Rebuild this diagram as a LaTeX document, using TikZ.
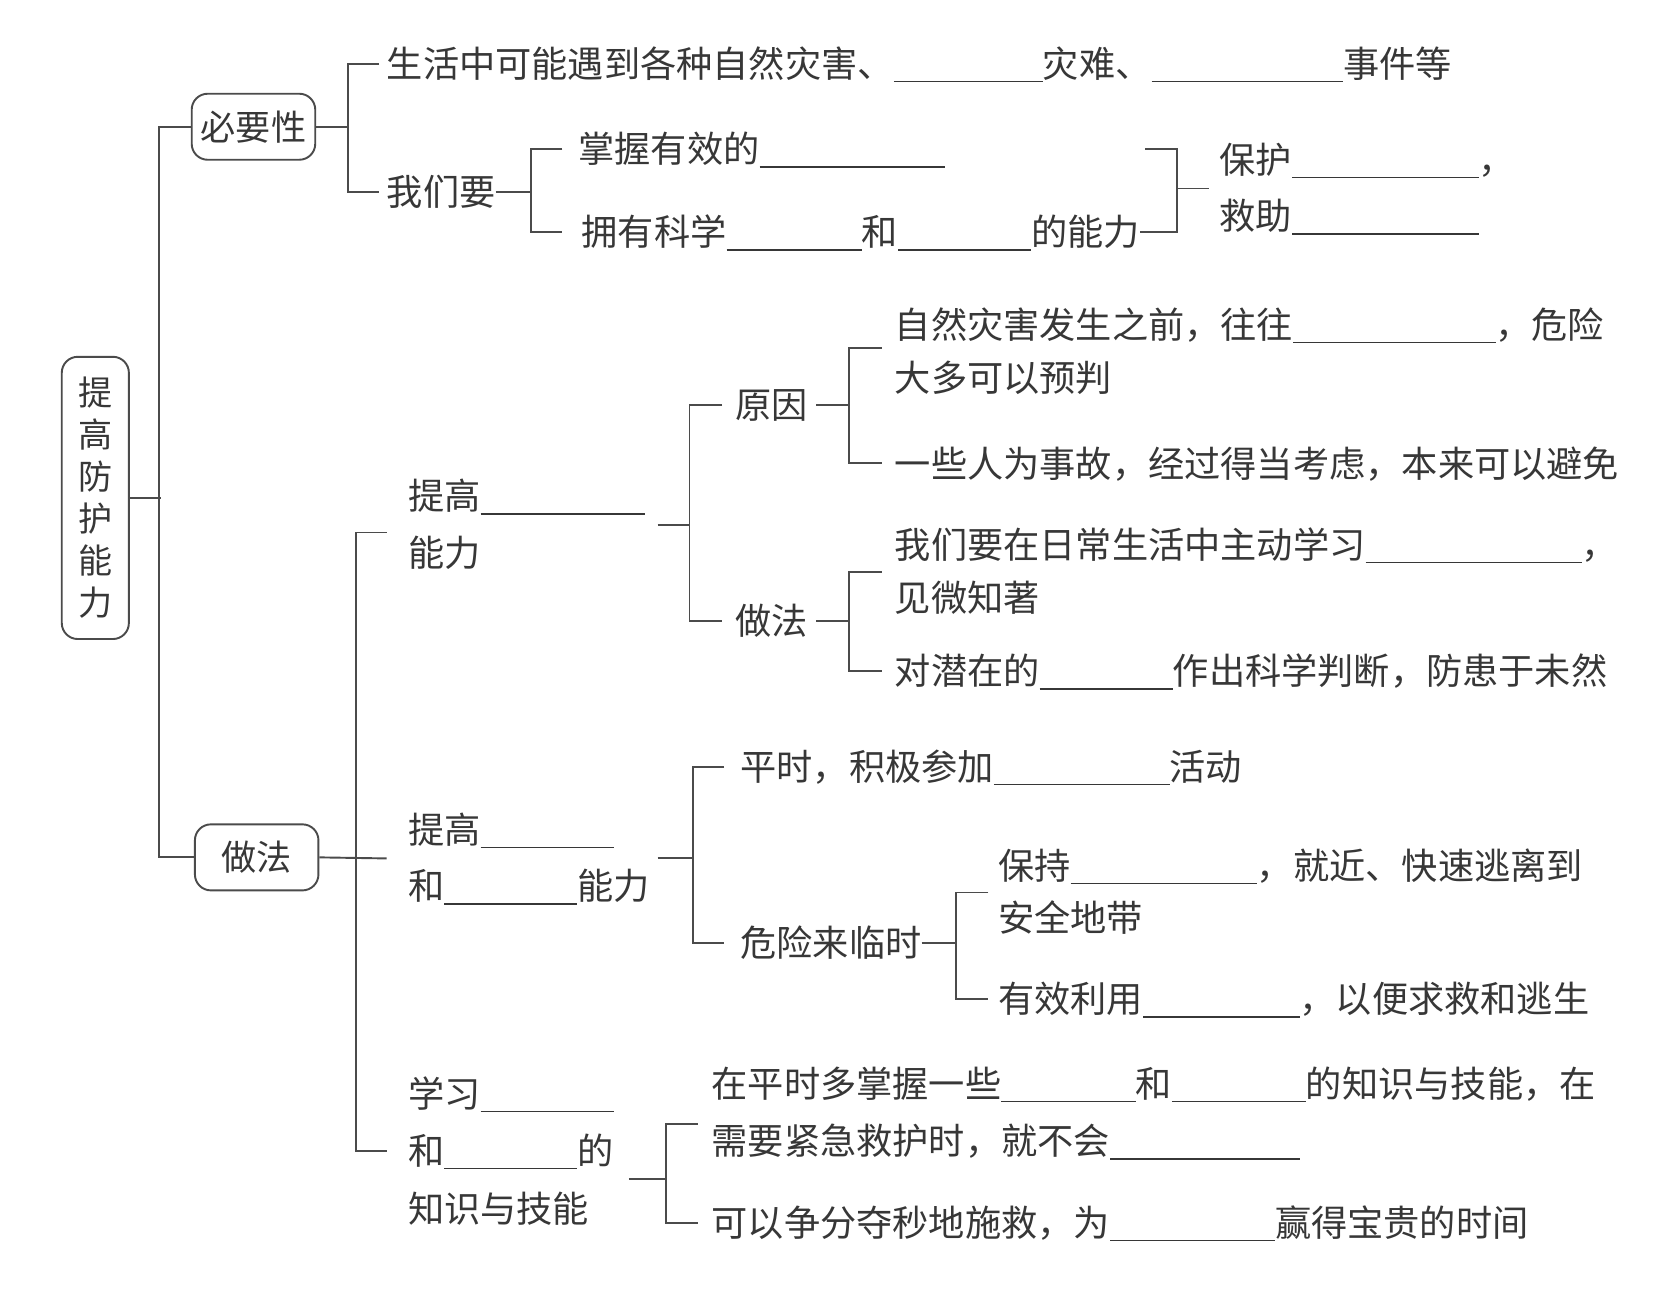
\documentclass[tikz,border=0pt]{standalone}
\usepackage{fontspec}
\setmainfont{Noto Sans CJK SC}
\definecolor{textc}{RGB}{55,55,55}
\definecolor{linec}{RGB}{75,75,75}
\newcommand\cs{\rule[-0.12em]{0pt}{1em}}
\newcommand\blank[1]{\smash{\rule[-4.5pt]{#1pt}{1.2pt}}}
\tikzset{
  txt/.style={anchor=west, inner sep=0pt, align=left, text=textc,
    font=\fontsize{34}{50}\selectfont, execute at begin node=\cs},
  conn/.style={draw=linec, line width=1.8pt},
  rbox/.style={draw=linec, line width=1.8pt, rounded corners=15pt, inner sep=0pt,
    text=textc, font=\fontsize{33}{40}\selectfont, minimum width=116pt, minimum height=62pt},
}
\begin{document}
\begin{tikzpicture}[x=1pt,y=-1pt]
\useasboundingbox[fill=white] (0,0) rectangle (1568,1228);

% root and first level
\node[rbox, minimum width=63pt, minimum height=265pt, align=center,
  font=\fontsize{32}{39.5}\selectfont] (root) at (89.5,467.5) {提\\高\\防\\护\\能\\力};
\node[rbox] (bixu) at (238,119) {必要性};
\node[rbox] (zuofa) at (241,805) {做法};

% necessity branch
\node[txt] (a1) at (363,60) {生活中可能遇到各种自然灾害、\blank{140}灾难、\blank{180}事件等};
\node[txt] (a2) at (363,180) {我们要};
\node[txt] (b1) at (543,140) {掌握有效的\blank{174}};
\node[txt] (b2) at (546,218) {拥有科学\blank{127}和\blank{125}的能力};
\node[txt, font=\fontsize{34}{53}\selectfont] (c1) at (1145,177) {保护\blank{175}，\\\cs 救助\blank{175}};

% methods branch
\node[txt, font=\fontsize{34}{53}\selectfont] (d1) at (383,493) {提高\blank{154}\\\cs 能力};
\node[txt, font=\fontsize{34}{53}\selectfont] (d2) at (383,806) {提高\blank{125}\\\cs 和\blank{125}能力};
\node[txt, font=\fontsize{34}{54}\selectfont] (d3) at (383,1081) {学习\blank{125}\\\cs 和\blank{125}的\\\cs 知识与技能};

\node[txt] (e1) at (690,380) {原因};
\node[txt] (e2) at (690,583) {做法};
\node[txt] (f1) at (840,330) {自然灾害发生之前，往往\blank{190}，危险\\\cs 大多可以预判};
\node[txt] (f2) at (840,435) {一些人为事故，经过得当考虑，本来可以避免};
\node[txt] (g1) at (840,537) {我们要在日常生活中主动学习\blank{203}，\\\cs 见微知著};
\node[txt] (g2) at (840,630) {对潜在的\blank{125}作出科学判断，防患于未然};

\node[txt] (h1) at (695,720) {平时，积极参加\blank{165}活动};
\node[txt] (h2) at (695,885) {危险来临时};
\node[txt, font=\fontsize{34}{49}\selectfont] (i1) at (937,838) {保持\blank{175}，就近、快速逃离到\\\cs 安全地带};
\node[txt] (i2) at (937,938) {有效利用\blank{147}，以便求救和逃生};

\node[txt, font=\fontsize{34}{54}\selectfont] (j1) at (668,1045) {在平时多掌握一些\blank{126}和\blank{126}的知识与技能，在\\\cs 需要紧急救护时，就不会\blank{178}};
\node[txt] (j2) at (668,1148) {可以争分夺秒地施救，为\blank{155}赢得宝贵的时间};

% connectors
\draw[conn] (root.east) -- ++(29,0);
\draw[conn] (bixu.west) -- ++(-30,0) |- (zuofa.west);

\draw[conn] (bixu.east) -- ++(30,0) coordinate (s1);
\draw[conn] ([xshift=-7pt]a1.west) -| (s1) |- ([xshift=-7pt]a2.west);

\draw[conn] (a2.east) -- ++(33,0) coordinate (s2);
\draw[conn] ([xshift=-15pt]b1.west) -| (s2) |- ([xshift=-18pt]b2.west);

\draw[conn] (b2.east) -- ++(35,0) coordinate (s3) -- (s3 |- b1.west) -- ++(-30,0);
\draw[conn] (s3 |- c1.west) -- ([xshift=-10pt]c1.west);

\draw[conn] (zuofa.east) -- ([xshift=-20pt]d2.west);
\coordinate (s4) at (334,805);
\draw[conn] ([shift={(-20pt,-7pt)}]d1.west) -| (s4) |- ([xshift=-20pt]d3.west);

\draw[conn] ([xshift=12pt]d1.east) -- ++(30,0) coordinate (s5);
\draw[conn] ([xshift=-12pt]e1.west) -| (s5) |- ([xshift=-12pt]e2.west);

\draw[conn] ([xshift=8pt]e1.east) -- ++(31,0) coordinate (s6);
\draw[conn] ([shift={(-12pt,3pt)}]f1.west) -| (s6) |- ([xshift=-12pt]f2.west);

\draw[conn] ([xshift=8pt]e2.east) -- ++(31,0) coordinate (s7);
\draw[conn] ([xshift=-12pt]g1.west) -| (s7) |- ([xshift=-12pt]g2.west);

\draw[conn] ([xshift=7pt]d2.east) -- ++(33,0) coordinate (s8);
\draw[conn] ([xshift=-15pt]h1.west) -| (s8) |- ([xshift=-15pt]h2.west);

\draw[conn] (h2.east) -- ++(32,0) coordinate (s9);
\draw[conn] ([xshift=-9pt]i1.west) -| (s9) |- ([xshift=-9pt]i2.west);

\draw[conn] ([shift={(14pt,-26pt)}]d3.east) -- ++(35,0) coordinate (s10);
\draw[conn] ([shift={(-13pt,-10pt)}]j1.west) -| (s10) |- ([xshift=-13pt]j2.west);
\end{tikzpicture}
\end{document}
